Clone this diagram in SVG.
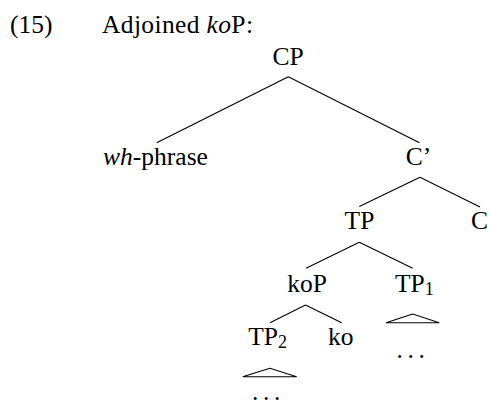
<svg xmlns="http://www.w3.org/2000/svg" width="489" height="400" viewBox="0 0 489 400">
<style>
text{font-family:"Liberation Serif","Times New Roman",serif;font-size:25.5px;fill:#000}
.m{text-anchor:middle}
.sub{font-size:18px}
.it{font-style:italic}
.e{stroke:#000;stroke-width:1.1;fill:none}
.dots{letter-spacing:4.6px}
</style>
<rect width="489" height="400" fill="#fff"/>
<g id="heading">
<text x="10" y="33">(15)</text>
<text x="102" y="33" textLength="151" lengthAdjust="spacing">Adjoined <tspan class="it">ko</tspan>P:</text>
</g>
<g id="connectors">
<path class="e" d="M288.3 76.7L156.7 142.7M288.3 76.7L419.5 142.7"/>
<path class="e" d="M420 177.3L359.3 206.5M420 177.3L480 207"/>
<path class="e" d="M359.3 242.3L306 268.3M359.3 242.3L412.7 268.3"/>
<path class="e" d="M305.5 305L270 322.7M305.5 305L341.7 322.7"/>
<path class="e" d="M412.7 314L386 322.7L439.3 322.7Z"/>
<path class="e" d="M270 368.3L242.7 376.7L296.7 376.7Z"/>
</g>
<g id="CP"><text class="m" x="288" y="65">CP</text></g>
<g id="wh-phrase"><text class="m" x="155.5" y="165"><tspan class="it">wh</tspan>-phrase</text></g>
<g id="Cbar"><text class="m" x="418.5" y="165">C’</text></g>
<g id="TP"><text class="m" x="359.5" y="229">TP</text></g>
<g id="C"><text class="m" x="479.5" y="229">C</text></g>
<g id="koP"><text class="m" x="307" y="291.5">koP</text></g>
<g id="TP1"><text x="395" y="291.5">TP<tspan class="sub" dy="3">1</tspan></text></g>
<g id="TP2"><text x="248.3" y="345">TP<tspan class="sub" dy="3">2</tspan></text></g>
<g id="ko"><text class="m" x="340.8" y="345">ko</text></g>
<g id="TP1-content"><text x="396.5" y="358" class="dots">...</text></g>
<g id="TP2-content"><text x="252" y="399.5" class="dots">...</text></g>
</svg>
